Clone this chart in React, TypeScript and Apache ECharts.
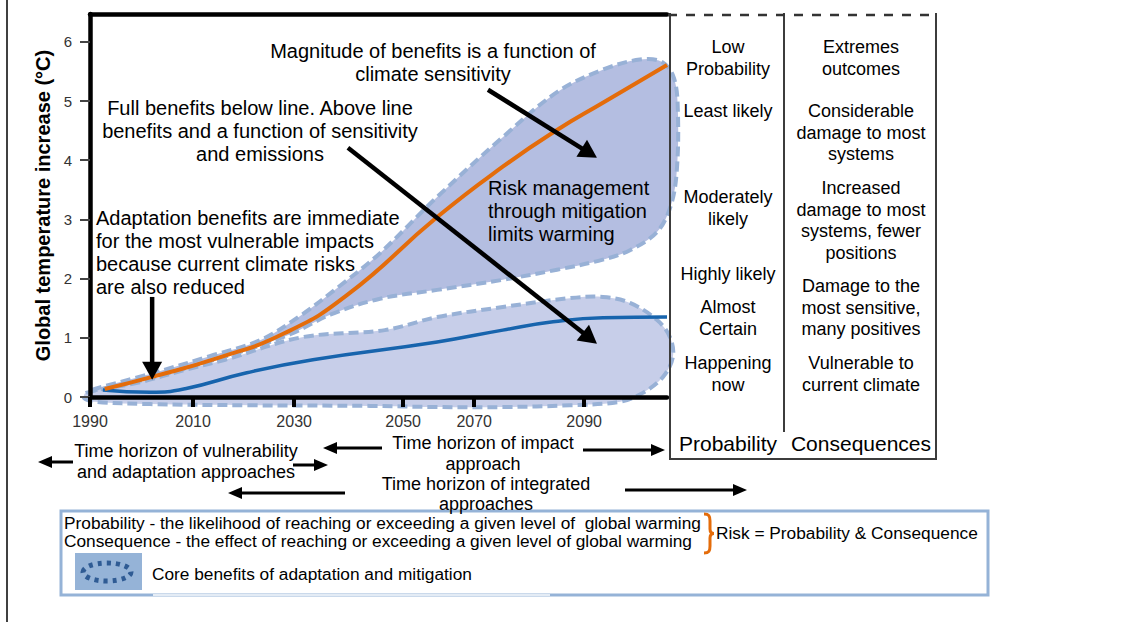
import React, { useEffect, useRef } from 'react';
import * as echarts from 'echarts';

// ---------- data ----------
const tickLabels = ['1990', '2010', '2030', '2050', '2070', '2090'];
const tickPositions = [1990, 2010.9, 2031.4, 2053.5, 2067.9, 2090.2];
const yTicks = [0, 1, 2, 3, 4, 5, 6];

const orangeYears = [1993.0, 2002.6, 2016.0, 2029.5, 2042.1, 2060.4, 2073.7, 2084.7, 2094.0, 2107.0];
const orangeTemps = [0.135, 0.34, 0.66, 1.08, 1.72, 3.04, 3.89, 4.51, 4.97, 5.61];

const blueYears = [1992.6, 2002.2, 2009.3, 2021.8, 2035.2, 2060.4, 2073.7, 2083.9, 2094.0, 2107.0];
const blueTemps = [0.12, 0.08, 0.14, 0.41, 0.63, 0.93, 1.13, 1.27, 1.34, 1.35];

const upperBlobYears = [1990.4, 2002.2, 2014.3, 2024.5, 2032.6, 2040.7, 2048.8, 2060.4, 2073.7, 2084.7, 2094.0, 2101.5, 2106.0, 2108.4, 2109.2, 2109.0, 2107.8, 2105.0, 2099.5, 2094.0, 2084.7, 2073.7, 2060.4, 2048.8, 2038.7, 2030.6, 2020.4, 2008.2, 1996.1];
const upperBlobTemps = [0.12, 0.39, 0.69, 0.96, 1.37, 1.88, 2.43, 3.38, 4.39, 5.15, 5.53, 5.70, 5.66, 5.39, 4.85, 3.84, 3.24, 2.79, 2.48, 2.32, 2.15, 1.98, 1.81, 1.66, 1.39, 1.06, 0.76, 0.46, 0.19];

const lowerBlobYears = [1989.2, 2000.1, 2009.3, 2017.4, 2033.0, 2049.8, 2060.4, 2073.7, 2087.3, 2094.0, 2099.5, 2105.0, 2107.6, 2108.2, 2106.2, 2102.1, 2097.5, 2087.3, 2073.7, 2060.4, 2046.8, 2022.4, 2002.2, 1991.0, 1988.8];
const lowerBlobTemps = [0.07, 0.25, 0.46, 0.63, 1.01, 1.13, 1.35, 1.52, 1.67, 1.69, 1.59, 1.30, 1.01, 0.68, 0.34, 0.07, -0.08, -0.14, -0.17, -0.17, -0.15, -0.14, -0.12, -0.08, -0.02];

// arrows in data space: [fromYear, fromTemp, tipYear, tipTemp]
const plotArrows = [
  [2002.6, 1.69, 2002.6, 0.29],
  [2070.7, 5.19, 2092.8, 4.04],
  [2042.3, 4.21, 2092.8, 0.90],
];

const annotationTexts = [
  'Magnitude of benefits is a function of\nclimate sensitivity',
  'Full benefits below line. Above line\nbenefits and a function of sensitivity\nand emissions',
  'Risk management\nthrough mitigation\nlimits warming',
  'Adaptation benefits are immediate\nfor the most vulnerable impacts\nbecause current climate risks\nare also reduced',
];

const probabilityLabels = ['Low\nProbability', 'Least likely', 'Moderately\nlikely', 'Highly likely', 'Almost\nCertain', 'Happening\nnow'];
const consequenceLabels = ['Extremes\noutcomes', 'Considerable\ndamage to most\nsystems', 'Increased\ndamage to most\nsystems, fewer\npositions', 'Damage to the\nmost sensitive,\nmany positives', 'Vulnerable to\ncurrent climate'];
const tableHeaders = ['Probability', 'Consequences'];

const horizonTexts = [
  'Time horizon of vulnerability\nand adaptation approaches',
  'Time horizon of impact\napproach',
  'Time horizon of integrated\napproaches',
];

const legendLines = [
  'Probability - the likelihood of reaching or exceeding a given level of  global warming',
  'Consequence - the effect of reaching or exceeding a given level of global warming',
];
const riskText = 'Risk = Probability & Consequence';
const coreText = 'Core benefits of adaptation and mitigation';

// ---------- layout ----------
const FONT = "'Liberation Sans', Arial, Helvetica, sans-serif";
const annotationLayout = [
  { x: 433, y: 39, align: 'center' },
  { x: 260, y: 96, align: 'center' },
  { x: 488, y: 176, align: 'left' },
  { x: 96, y: 206, align: 'left' },
];
const probTops = [47, 111, 197, 274, 307, 363];
const consTops = [47, 111, 188, 286, 363];
const horizonLayout = [
  { x: 186, y: 451, lh: 21 },
  { x: 483, y: 443, lh: 21 },
  { x: 486, y: 484, lh: 19.5 },
];
const horizonArrows = [
  [73, 462, 38, 462],
  [293, 465, 328, 465],
  [382, 448, 323, 448],
  [583, 450, 665, 450],
  [345, 493, 228, 493],
  [625, 490, 747, 490],
];
const LEGEND_FS = 17.3;

function arrowShapes(x1: number, y1: number, x2: number, y2: number, hl: number, hw: number, lw: number, z: number) {
  const dx = x2 - x1, dy = y2 - y1;
  const len = Math.hypot(dx, dy) || 1;
  const ux = dx / len, uy = dy / len;
  const bx = x2 - ux * hl, by = y2 - uy * hl;
  return [
    { type: 'line', z, shape: { x1, y1, x2: bx + ux, y2: by + uy }, style: { stroke: '#000', lineWidth: lw } },
    {
      type: 'polygon', z,
      shape: { points: [[x2, y2], [bx - uy * hw, by + ux * hw], [bx + uy * hw, by - ux * hw]] },
      style: { fill: '#000' },
    },
  ];
}

function blobSeries(name: string, years: number[], temps: number[], fill: string, z: number) {
  return {
    type: 'custom', name, z, clip: false, silent: true,
    data: [[years[0], temps[0]]],
    renderItem: (_p: any, api: any) => ({
      type: 'polygon',
      shape: { points: years.map((yr, i) => api.coord([yr, temps[i]])), smooth: 0.35 },
      style: { fill, stroke: '#98b1d6', lineWidth: 4, lineDash: [10, 5] },
    }),
  };
}

export default function App() {
  const ref = useRef<HTMLDivElement>(null);
  useEffect(() => {
    if (!ref.current) return;
    echarts.graphic.registerShape(
      'brace',
      echarts.graphic.extendPath('M0,0 C5,0 6,2 6,7 L6,15 C6,18 7,19.5 10,19.5 C7,19.5 6,21 6,24 L6,32 C6,37 5,39 0,39', {})
    );
    const chart = echarts.init(ref.current, null, { renderer: 'svg' });

    const graphic: any[] = [];
    // page left border
    graphic.push({ type: 'line', z: 60, shape: { x1: 7, y1: 0, x2: 7, y2: 622 }, style: { stroke: '#000', lineWidth: 1.5 } });

    // plot annotations
    annotationTexts.forEach((t, i) => {
      const l = annotationLayout[i];
      graphic.push({
        type: 'text', z: 60, x: l.x, y: l.y,
        style: { text: t, fontSize: 20, fontFamily: FONT, fill: '#000', align: l.align, verticalAlign: 'top', lineHeight: 23 },
      });
    });

    // table
    const tStroke = '#3c3c3c';
    graphic.push({ type: 'line', z: 60, shape: { x1: 670, y1: 13, x2: 670, y2: 460 }, style: { stroke: tStroke, lineWidth: 2 } });
    graphic.push({ type: 'line', z: 60, shape: { x1: 784, y1: 13, x2: 784, y2: 432 }, style: { stroke: tStroke, lineWidth: 2 } });
    graphic.push({ type: 'line', z: 60, shape: { x1: 936, y1: 13, x2: 936, y2: 460 }, style: { stroke: tStroke, lineWidth: 2 } });
    graphic.push({ type: 'line', z: 60, shape: { x1: 669, y1: 459, x2: 937, y2: 459 }, style: { stroke: tStroke, lineWidth: 2 } });
    graphic.push({ type: 'line', z: 60, shape: { x1: 668, y1: 15, x2: 930, y2: 15 }, style: { stroke: '#333', lineWidth: 2.5, lineDash: [9, 9] } });

    probabilityLabels.forEach((t, i) => {
      graphic.push({
        type: 'text', z: 60, x: 728, y: probTops[i] - 10.75,
        style: { text: t, fontSize: 18, fontFamily: FONT, fill: '#000', align: 'center', verticalAlign: 'top', lineHeight: 21.5 },
      });
    });
    consequenceLabels.forEach((t, i) => {
      graphic.push({
        type: 'text', z: 60, x: 861, y: consTops[i] - 10.75,
        style: { text: t, fontSize: 18, fontFamily: FONT, fill: '#000', align: 'center', verticalAlign: 'top', lineHeight: 21.5 },
      });
    });
    tableHeaders.forEach((t, i) => {
      graphic.push({
        type: 'text', z: 60, x: i === 0 ? 728 : 861, y: 443,
        style: { text: t, fontSize: 21, fontFamily: FONT, fill: '#000', align: 'center', verticalAlign: 'middle' },
      });
    });

    // time horizons
    horizonTexts.forEach((t, i) => {
      const l = horizonLayout[i];
      graphic.push({
        type: 'text', z: 60, x: l.x, y: l.y - l.lh / 2,
        style: { text: t, fontSize: 18, fontFamily: FONT, fill: '#000', align: 'center', verticalAlign: 'top', lineHeight: l.lh },
      });
    });
    horizonArrows.forEach((a) => {
      graphic.push(...arrowShapes(a[0], a[1], a[2], a[3], 14, 6, 3, 60));
    });

    // legend box
    graphic.push({ type: 'rect', z: 55, shape: { x: 61, y: 511, width: 927, height: 84 }, style: { fill: '#fff', stroke: '#95b3d7', lineWidth: 3 } });
    graphic.push({ type: 'line', z: 56, shape: { x1: 153, y1: 595, x2: 550, y2: 595 }, style: { stroke: 'rgba(255,255,255,0.75)', lineWidth: 2 } });
    legendLines.forEach((t, i) => {
      graphic.push({
        type: 'text', z: 60, x: 64, y: i === 0 ? 523 : 541,
        style: { text: t, fontSize: LEGEND_FS, fontFamily: FONT, fill: '#000', align: 'left', verticalAlign: 'middle' },
      });
    });
    graphic.push({
      type: 'brace', z: 60, x: 704, y: 514, scaleX: 1, scaleY: 1,
      style: { stroke: '#e46c0a', lineWidth: 3, fill: 'none' },
    });
    graphic.push({
      type: 'text', z: 60, x: 716, y: 533,
      style: { text: riskText, fontSize: LEGEND_FS, fontFamily: FONT, fill: '#000', align: 'left', verticalAlign: 'middle' },
    });
    graphic.push({ type: 'rect', z: 60, shape: { x: 75, y: 553, width: 67, height: 37 }, style: { fill: '#95b3d7' } });
    graphic.push({
      type: 'ellipse', z: 61, shape: { cx: 107, cy: 572, rx: 24, ry: 9 },
      style: { fill: 'none', stroke: '#2f5b94', lineWidth: 5, lineDash: [4, 5] },
    });
    graphic.push({
      type: 'text', z: 60, x: 152, y: 574,
      style: { text: coreText, fontSize: LEGEND_FS, fontFamily: FONT, fill: '#000', align: 'left', verticalAlign: 'middle' },
    });

    const option: any = {
      animation: false,
      textStyle: { fontFamily: FONT },
      grid: { left: 90, top: 14, right: 463, bottom: 225, containLabel: false },
      xAxis: [
        {
          type: 'value', min: 1990, max: 2107, position: 'bottom', z: 20,
          axisLine: { show: true, onZero: false, lineStyle: { color: '#000', width: 4.5 } },
          axisTick: { show: true, customValues: tickPositions, length: 10, lineStyle: { color: '#000', width: 4 } },
          axisLabel: {
            show: true, customValues: tickPositions, margin: 16, color: '#333', fontSize: 16,
            formatter: (v: number) => {
              let best = 0;
              tickPositions.forEach((p, i) => { if (Math.abs(p - v) < Math.abs(tickPositions[best] - v)) best = i; });
              return tickLabels[best];
            },
          },
          splitLine: { show: false },
        },
        {
          type: 'value', min: 1990, max: 2107, position: 'top', z: 20,
          axisLine: { show: true, onZero: false, lineStyle: { color: '#000', width: 4.5 } },
          axisTick: { show: false }, axisLabel: { show: false }, splitLine: { show: false },
        },
      ],
      yAxis: {
        type: 'value', min: 0, max: 6.47, interval: 1, z: 20,
        name: 'Global temperature increase (°C)', nameLocation: 'middle', nameGap: 36,
        nameTextStyle: { fontWeight: 'bold', fontSize: 20, color: '#000', fontFamily: FONT },
        axisLine: { show: true, lineStyle: { color: '#000', width: 4.5 } },
        axisTick: { show: true, customValues: yTicks, length: 10, lineStyle: { color: '#444', width: 2 } },
        axisLabel: { show: true, customValues: yTicks, margin: 18, color: '#333', fontSize: 15 },
        splitLine: { show: false },
      },
      graphic,
      series: [
        blobSeries('lowerBlob', lowerBlobYears, lowerBlobTemps, '#c7cee9', 1),
        blobSeries('upperBlob', upperBlobYears, upperBlobTemps, '#b4bee1', 2),
        {
          type: 'line', name: 'blue', z: 3, smooth: 0.5, symbol: 'none', silent: true,
          data: blueYears.map((y, i) => [y, blueTemps[i]]),
          lineStyle: { color: '#1764ad', width: 3.5 },
        },
        {
          type: 'line', name: 'orange', z: 4, smooth: 0.5, symbol: 'none', silent: true,
          data: orangeYears.map((y, i) => [y, orangeTemps[i]]),
          lineStyle: { color: '#e46c0a', width: 4 },
        },
        {
          type: 'custom', name: 'arrows', z: 6, clip: false, silent: true,
          encode: { x: [0, 2], y: [1, 3] },
          data: plotArrows,
          renderItem: (_p: any, api: any) => {
            const p1 = api.coord([api.value(0), api.value(1)]);
            const p2 = api.coord([api.value(2), api.value(3)]);
            return { type: 'group', children: arrowShapes(p1[0], p1[1], p2[0], p2[1], 18, 10, 4.5, 0) };
          },
        },
      ],
    };
    chart.setOption(option);
    return () => chart.dispose();
  }, []);
  return (
    <div
      ref={ref}
      style={{ position: 'fixed', left: 0, top: 0, width: 1130, height: 622, background: '#fff' }}
    />
  );
}
